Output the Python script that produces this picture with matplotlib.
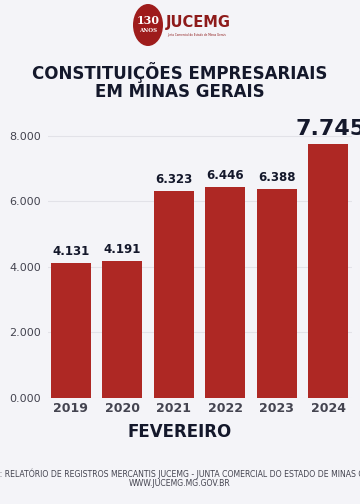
import matplotlib.pyplot as plt
from matplotlib.patches import Circle

years = ['2019', '2020', '2021', '2022', '2023', '2024']
values = [4131, 4191, 6323, 6446, 6388, 7745]
labels = ['4.131', '4.191', '6.323', '6.446', '6.388', '7.745']
yticks = [0, 2000, 4000, 6000, 8000]
yticklabels = ['0.000', '2.000', '4.000', '6.000', '8.000']

bg = '#f4f4f8'
red = '#ae2824'
navy = '#14182b'
gray = '#444450'

fig = plt.figure(figsize=(3.6, 5.04), dpi=100, facecolor=bg)

# logo
fig.patches.append(Circle((148 / 360, 1 - 25 / 504), 15 / 360, transform=fig.transFigure,
                          facecolor='#9e1c1c', edgecolor='none'))
fig.text(148 / 360, 1 - 21 / 504, '130', ha='center', va='center', fontsize=8,
         color='white', fontweight='bold', family='DejaVu Serif')
fig.text(148 / 360, 1 - 31 / 504, 'ANOS', ha='center', va='center', fontsize=4,
         color='white', fontweight='bold', family='DejaVu Serif')
fig.text(166 / 360, 1 - 23 / 504, 'JUCEMG', ha='left', va='center', fontsize=10.5,
         color='#8e1b1b', fontweight='bold', family='Liberation Sans Narrow')
fig.text(167 / 360, 1 - 35 / 504, 'Junta Comercial do Estado de Minas Gerais', ha='left',
         va='center', fontsize=2, color='#8e1b1b')

# title
fig.text(0.5, 1 - 73 / 504, 'CONSTITUIÇÕES EMPRESARIAIS', ha='center', va='center',
         fontsize=12, fontweight='bold', color=navy)
fig.text(0.5, 1 - 92 / 504, 'EM MINAS GERAIS', ha='center', va='center',
         fontsize=12, fontweight='bold', color=navy)

ax = fig.add_axes([48 / 360, 106 / 504, 304 / 360, 278.4 / 504])
ax.set_facecolor(bg)
x = range(len(years))
ax.bar(x, values, width=0.78, color=red, zorder=2)
ax.set_xlim(-0.44, 5.46)
ax.set_ylim(0, 8500)
ax.set_yticks(yticks)
ax.set_yticklabels(yticklabels)
ax.set_xticks(list(x))
ax.set_xticklabels(years, fontweight='bold')
ax.tick_params(axis='both', length=0, labelcolor=gray)
ax.tick_params(axis='x', pad=3, labelsize=9)
ax.tick_params(axis='y', pad=5, labelsize=8)
ax.grid(axis='y', color='#e2e2e8', linewidth=0.8, zorder=0)
for s in ax.spines.values():
    s.set_visible(False)

for i, (v, lab) in enumerate(zip(values, labels)):
    if i == len(values) - 1:
        ax.text(i + 0.05, v + 150, lab, ha='center', va='bottom', fontsize=16,
                fontweight='bold', color=navy, clip_on=False)
    else:
        ax.text(i, v + 150, lab, ha='center', va='bottom', fontsize=8.5,
                fontweight='bold', color=navy)

fig.text(0.5, 1 - 432 / 504, 'FEVEREIRO', ha='center', va='center', fontsize=12,
         fontweight='bold', color=navy)

fig.text(0.5, 1 - 474 / 504,
         'FONTE: RELATÓRIO DE REGISTROS MERCANTIS JUCEMG - JUNTA COMERCIAL DO ESTADO DE MINAS GERAIS',
         ha='center', va='center', fontsize=5.6, color=gray, family='Liberation Sans Narrow')
fig.text(0.5, 1 - 484 / 504, 'WWW.JUCEMG.MG.GOV.BR', ha='center', va='center',
         fontsize=5.6, color=gray, family='Liberation Sans Narrow')

fig.savefig('out.png', dpi=100, facecolor=bg)
